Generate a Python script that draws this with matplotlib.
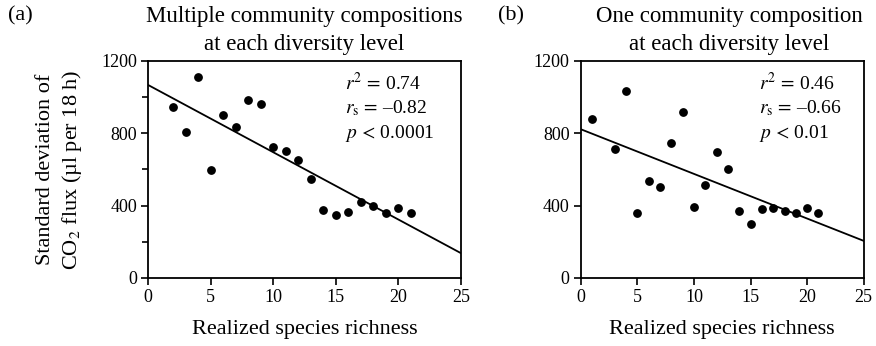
import numpy as np
import matplotlib
matplotlib.use('Agg')
import matplotlib.pyplot as plt
from matplotlib.ticker import MultipleLocator

plt.rcParams['font.family'] = ['Liberation Serif', 'DejaVu Serif']
plt.rcParams['mathtext.fontset'] = 'stix'

# Panel (a): multiple community compositions
richness_a = [2, 3, 4, 5, 6, 7, 8, 9, 10, 11, 12, 13, 14, 15, 16, 17, 18, 19, 20, 21]
sd_a = [947, 807, 1113, 597, 898, 837, 984, 960, 726, 699, 653, 544, 374, 350, 365, 419, 400, 358, 385, 359]
fit_a = [1067, -37.2]  # intercept, slope
stats_a = [r'$r^{2}\,{=}\,$0.74', r'$r_{\mathrm{s}}\,{=}\,$–0.82', r'$p\,{<}\,$0.0001']

# Panel (b): one community composition
richness_b = [1, 3, 4, 5, 6, 7, 8, 9, 10, 11, 12, 13, 14, 15, 16, 17, 18, 19, 20, 21]
sd_b = [881, 712, 1034, 356, 536, 503, 747, 918, 394, 516, 695, 603, 369, 299, 380, 385, 370, 356, 385, 360]
fit_b = [822, -24.7]
stats_b = [r'$r^{2}\,{=}\,$0.46', r'$r_{\mathrm{s}}\,{=}\,$–0.66', r'$p\,{<}\,$0.01']

fig = plt.figure(figsize=(8.76, 3.46), dpi=100)
ax_a = fig.add_axes([0.169, 0.197, 0.357, 0.627])
ax_b = fig.add_axes([0.663, 0.197, 0.323, 0.627])

fs = 13    # tick labels
lfs = 16   # titles and axis labels

def draw_panel(ax, x, y, fit, stats, title, minor_y, title_x):
    ax.scatter(x, y, s=28, color='black', zorder=3)
    xs = np.array([0, 25])
    ax.plot(xs, fit[0] + fit[1] * xs, color='black', lw=1.3)
    ax.set_xlim(0, 25)
    ax.set_ylim(0, 1200)
    ax.set_xticks([0, 5, 10, 15, 20, 25])
    ax.set_yticks([0, 400, 800, 1200])
    if minor_y:
        ax.yaxis.set_minor_locator(MultipleLocator(200))
    ax.tick_params(direction='out', length=5, width=1.2, labelsize=fs, pad=3)
    ax.tick_params(which='minor', direction='out', length=4, width=1.2)
    for sp in ax.spines.values():
        sp.set_linewidth(1.3)
    ax.set_xlabel('Realized species richness', fontsize=lfs, labelpad=10)
    ax.set_title(title, fontsize=16.5, linespacing=1.4, pad=8, x=title_x)
    for i, s in enumerate(stats):
        ax.text(0.63, 0.9 - i * 0.117, s, transform=ax.transAxes, fontsize=fs + 1,
                va='center', ha='left')

draw_panel(ax_a, richness_a, sd_a, fit_a, stats_a,
           'Multiple community compositions\nat each diversity level', True, 0.5)
draw_panel(ax_b, richness_b, sd_b, fit_b, stats_b,
           'One community composition\nat each diversity level', False, 0.525)

# panel letters
fig.text(20 / 876, 1 - 16 / 346, '(a)', fontsize=lfs, ha='center', va='center')
fig.text(511 / 876, 1 - 16 / 346, '(b)', fontsize=lfs, ha='center', va='center')

ax_a.set_ylabel('Standard deviation of\nCO$_2$ flux (µl per 18 h)', fontsize=lfs,
                linespacing=1.3, labelpad=12)

fig.savefig('out.png', dpi=100)
